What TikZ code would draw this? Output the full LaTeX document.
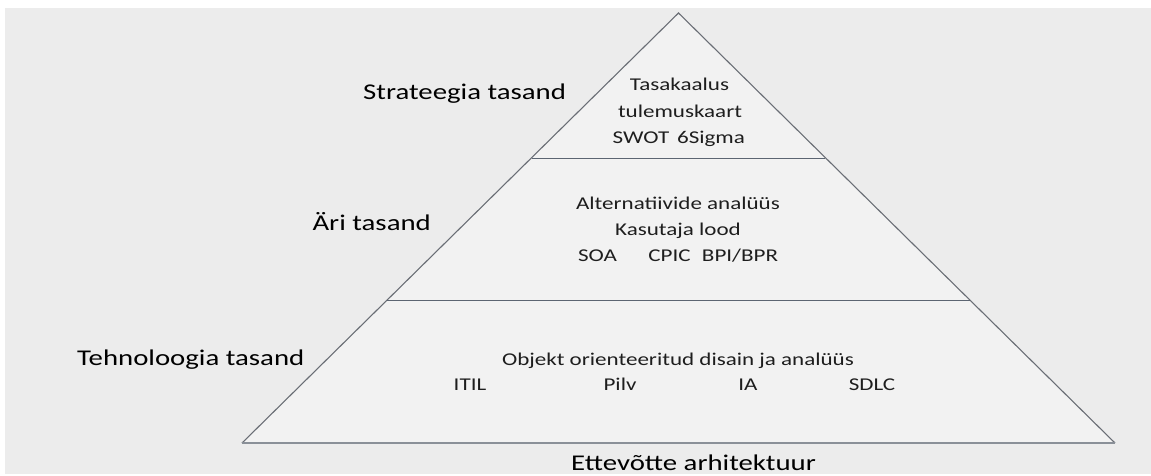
\documentclass[tikz,border=0pt]{standalone}
\usepackage{fontspec}
\setmainfont{Carlito}[FakeStretch=1.28]
\definecolor{pagebg}{HTML}{ECECEC}
\definecolor{tierfill}{HTML}{F2F2F2}
\definecolor{edgegray}{HTML}{6A6E75}
\definecolor{splitgray}{HTML}{5C6572}
\definecolor{basegray}{HTML}{8A9098}
\definecolor{txt}{HTML}{1E1E1E}
\tikzset{
  levellabel/.style={inner sep=0pt, text=black, font=\fontsize{22.5}{24}\selectfont},
  tiertext/.style={inner sep=0pt, anchor=base, text=txt, font=\fontsize{18}{20}\selectfont},
  sideline/.style={draw=edgegray, line width=1.1pt},
  splitline/.style={draw=splitgray, line width=1.3pt},
  baseline/.style={draw=basegray, line width=2pt}
}
\begin{document}
\begin{tikzpicture}[x=1pt, y=-1pt]
  % page and backdrop
  \fill[white] (0,0) rectangle (1151,475);
  \useasboundingbox (0,0) rectangle (1151,475);
  \fill[pagebg] (5,8) rectangle (1151,474);

  % pyramid corners and tier boundaries
  \coordinate (apex) at (678.5,13);
  \coordinate (bl) at (242,443);
  \coordinate (br) at (1115,443);
  \coordinate (s1l) at (532,158.5);
  \coordinate (s1r) at (825,158.5);
  \coordinate (s2l) at (387,300.5);
  \coordinate (s2r) at (970,300.5);

  \fill[tierfill] (apex) -- (br) -- (bl) -- cycle;
  \draw[sideline] (bl) -- (apex) -- (br);
  \draw[splitline] (s1l) -- (s1r);
  \draw[splitline] (s2l) -- (s2r);
  \draw[baseline] (bl) -- (br);

  % level names
  \node[levellabel, anchor=base west] (strat) at (363,99) {Strateegia tasand};
  \node[levellabel, anchor=base east] (ari) at (431,230) {Äri tasand};
  \node[levellabel, anchor=base west] (tehno) at (77,365) {Tehnoloogia tasand};
  \node[levellabel, anchor=base] (ea) at (693.5,470) {Ettevõtte arhitektuur};

  % strategy tier
  \node[tiertext] (t1) at (679.5,90.5) {Tasakaalus};
  \node[tiertext] (t2) at (680,117) {tulemuskaart};
  \node[tiertext] (swot) at (641,143.5) {SWOT};
  \node[tiertext] (sigma) at (711,143.5) {6Sigma};

  % business tier
  \node[tiertext] (m1) at (678,209.5) {Alternatiivide analüüs};
  \node[tiertext] (m2) at (678,235.5) {Kasutaja lood};
  \node[tiertext] (soa) at (597.5,261.5) {SOA};
  \node[tiertext] (cpic) at (669.5,261.5) {CPIC};
  \node[tiertext] (bpi) at (740,261.5) {BPI/BPR};

  % technology tier
  \node[tiertext] (b1) at (678,365) {Objekt orienteeritud disain ja analüüs};
  \node[tiertext] (itil) at (470,390) {ITIL};
  \node[tiertext] (pilv) at (620,390) {Pilv};
  \node[tiertext] (ia) at (748,390) {IA};
  \node[tiertext] (sdlc) at (872,390) {SDLC};
\end{tikzpicture}
\end{document}
